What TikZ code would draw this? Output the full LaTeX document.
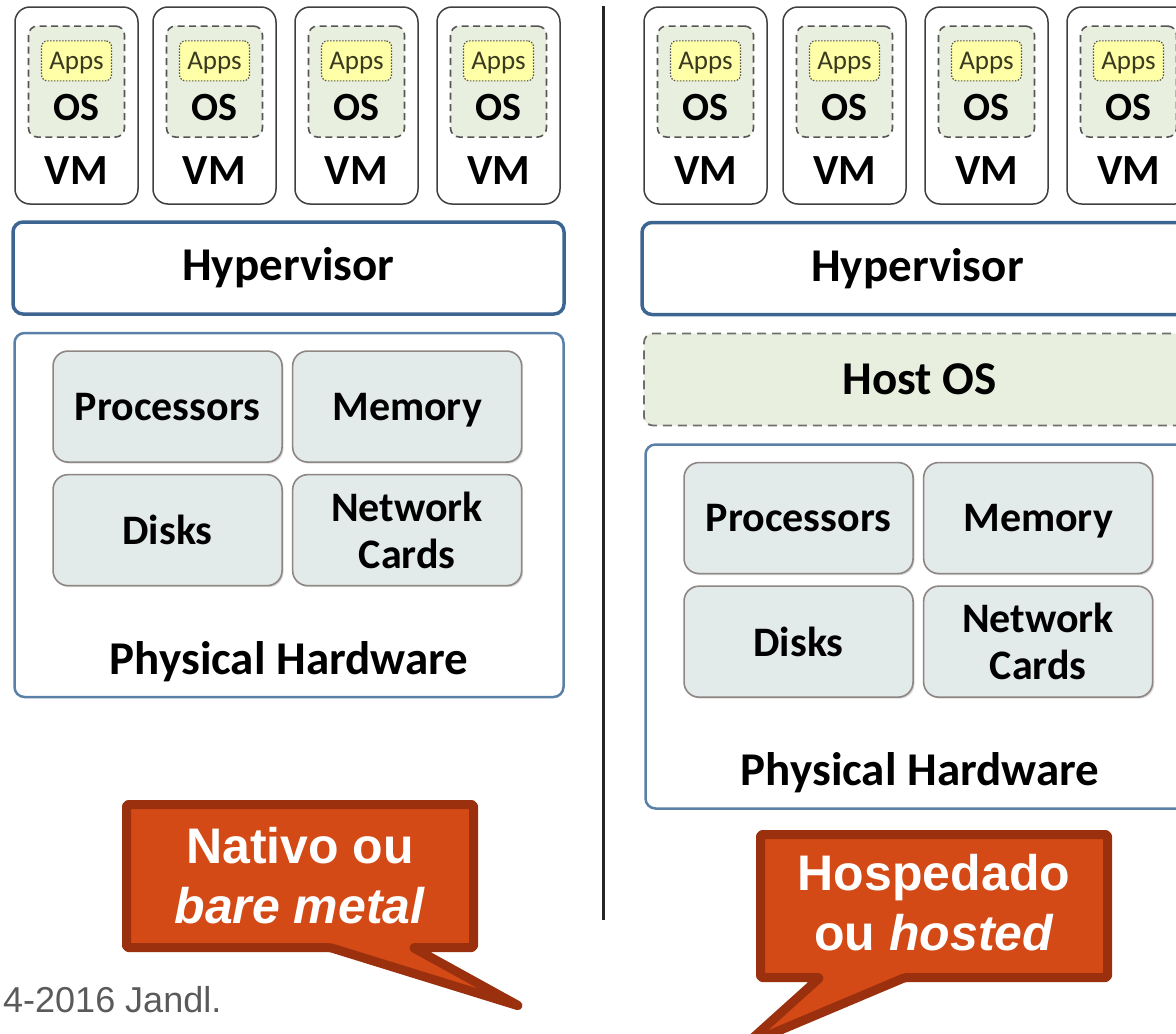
\documentclass[tikz,border=0pt]{standalone}
\usepackage{fontspec}
\setmainfont{Carlito}
\newfontfamily\calloutfamily{Liberation Sans}
\usetikzlibrary{positioning, shadows}

\definecolor{vmborder}{HTML}{3F3F3F}
\definecolor{dashgray}{HTML}{555555}
\definecolor{osgreen}{HTML}{E9EFDE}
\definecolor{appsyellow}{HTML}{FFFFA8}
\definecolor{appstext}{HTML}{3A3A20}
\definecolor{hypblue}{HTML}{3D6591}
\definecolor{phblue}{HTML}{5B80A8}
\definecolor{hwfill}{HTML}{E3EAEA}
\definecolor{hwborder}{HTML}{8E8682}
\definecolor{sepgray}{HTML}{262626}
\definecolor{calloutfill}{HTML}{D34A17}
\definecolor{calloutborder}{HTML}{9B300E}
\definecolor{copygray}{HTML}{5A5A5A}

\newcommand{\vmfont}{\fontsize{43}{44}\selectfont\bfseries}
\newcommand{\osfont}{\fontsize{40}{40}\selectfont\bfseries}
\newcommand{\appsfont}{\fontsize{27}{27}\selectfont}
\newcommand{\hwfont}{\fontsize{42}{47}\selectfont\bfseries}
\newcommand{\layerfont}{\fontsize{47}{50}\selectfont\bfseries}
\newcommand{\calloutsize}{\calloutfamily\fontsize{50}{60}\selectfont\bfseries}
\newcommand{\copysize}{\calloutfamily\fontsize{36}{36}\selectfont}

\tikzstyle{vm-box} = [rectangle, rounded corners=15pt, draw=vmborder, line width=1.5pt,
 fill=white, minimum width=123pt, minimum height=197pt, inner sep=0]
\tikzstyle{vm-os} = [rectangle, rounded corners=9pt, draw=dashgray, line width=1.6pt,
 dash pattern=on 7pt off 4.5pt, fill=osgreen, minimum width=96pt, minimum height=111pt, inner sep=0]
\tikzstyle{vm-apps} = [rectangle, rounded corners=6pt, draw=dashgray, line width=1.2pt,
 dash pattern=on 1.5pt off 1.5pt, fill=appsyellow, minimum width=70pt, minimum height=40pt,
 inner sep=0, font=\appsfont, text=appstext, text depth=0pt]
\tikzstyle{vm-label} = [inner sep=0, font=\vmfont]
\tikzstyle{os-label} = [inner sep=0, font=\osfont]
\tikzstyle{layer-base} = [rectangle, minimum width=551pt, minimum height=92pt, inner sep=0, font=\layerfont]
\tikzstyle{hypervisor} = [layer-base, rounded corners=10pt, draw=hypblue, line width=3.5pt, fill=white]
\tikzstyle{host-os} = [layer-base, rounded corners=9pt, draw=dashgray!85, line width=1.8pt,
 dash pattern=on 9pt off 6pt, fill=osgreen]
\tikzstyle{hardware} = [rectangle, rounded corners=10pt, draw=phblue, line width=2.5pt, fill=white,
 minimum width=549pt, minimum height=364pt, inner sep=0]
\tikzstyle{hw-box} = [rectangle, rounded corners=15pt, draw=hwborder, line width=1.6pt, fill=hwfill,
 minimum width=229pt, minimum height=111pt, inner sep=0, align=center, font=\hwfont, text depth=0pt,
 drop shadow={shadow xshift=1.5pt, shadow yshift=-1.5pt, opacity=0.3}]
\tikzstyle{hw-label} = [inner sep=0, font=\layerfont]
\tikzstyle{separator} = [line width=3pt, draw=sepgray]
\tikzstyle{callout} = [fill=calloutfill, draw=calloutborder, line width=9pt, line join=round, rounded corners=2pt]
\tikzstyle{callout-text} = [text=white, align=center, font=\calloutsize, inner sep=0]
\tikzstyle{copyright} = [anchor=west, inner sep=0, text=copygray, font=\copysize]

\newcommand{\VMNode}[2]{%
    \node (#1) [vm-box] at (#2) {};
    \node (#1_OS) [vm-os, below=19pt of #1.north] {};
    \node (#1_APPS) [vm-apps, below=15pt of #1_OS.north] {Apps};
    \node (#1_OSLBL) [os-label] at ([yshift=30pt]#1_OS.south) {OS};
    \node (#1_LBL) [vm-label] at ([yshift=34pt]#1.south) {VM};
}
\newcommand{\HardwareNode}[1]{%
    \node (#1_PROC) [hw-box, below right=18.5pt and 39pt of #1.north west] {Processors};
    \node (#1_MEM) [hw-box, right=9pt of #1_PROC] {Memory};
    \node (#1_DISK) [hw-box, below=11pt of #1_PROC] {Disks};
    \node (#1_NET) [hw-box, right=9pt of #1_DISK] {Network\\Cards};
    \node (#1_LBL) [hw-label] at ([yshift=37pt]#1.south) {Physical Hardware};
}

\begin{document}
\begin{tikzpicture}[x=1pt, y=-1pt]

\useasboundingbox (0,0) rectangle (1176,1034);
\clip (0,0) rectangle (1176,1034);

% Native (bare metal)

\VMNode{VM_L1}{76.5,105.5}
\VMNode{VM_L2}{214.5,105.5}
\VMNode{VM_L3}{356.5,105.5}
\VMNode{VM_L4}{498.5,105.5}

\node (HYPERVISOR_L) [hypervisor] at (288.5,268) {Hypervisor};

\node (HARDWARE_L) [hardware] at (289,515) {};
\HardwareNode{HARDWARE_L}

% Hosted

\VMNode{VM_R1}{705.5,105.5}
\VMNode{VM_R2}{844.5,105.5}
\VMNode{VM_R3}{986.5,105.5}
\VMNode{VM_R4}{1128.5,105.5}

\node (HYPERVISOR_R) [hypervisor] at (917.5,268.5) {Hypervisor};

\node (HOST_OS) [host-os] at (919.5,379.5) {Host OS};

\node (HARDWARE_R) [hardware] at (920,626.5) {};
\HardwareNode{HARDWARE_R}

% Separator
\coordinate (SEP_TOP) at (603,6);
\coordinate (SEP_BOTTOM) at (603,920);
\draw[separator] (SEP_TOP) -- (SEP_BOTTOM);

% Callouts
\draw[callout] (126.5,804.5) -- (473.5,804.5) -- (473.5,947.5) -- (413,947.5)
    -- (519,1006) -- (330,947.5) -- (126.5,947.5) -- cycle;
\node (NATIVO) [callout-text] at (300,876) {Nativo ou\\\textit{bare metal}};

\draw[callout] (760.5,834.5) -- (1107.5,834.5) -- (1107.5,977.5) -- (905,977.5)
    -- (745,1045) -- (820,977.5) -- (760.5,977.5) -- cycle;
\node (HOSPEDADO) [callout-text] at (934,903) {Hospedado\\ou \textit{hosted}};

\node (COPYRIGHT) [copyright] at (3,1000) {4-2016 Jandl.};

\end{tikzpicture}
\end{document}
